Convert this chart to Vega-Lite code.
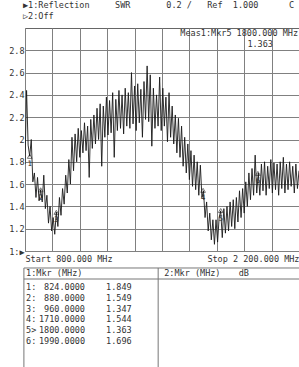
{
  "$schema": "https://vega.github.io/schema/vega-lite/v6.json",
  "width": 274,
  "height": 223,
  "autosize": "none",
  "padding": {"left": 25, "top": 28, "right": 0, "bottom": 116},
  "background": "white",
  "config": {
    "font": "DejaVu Sans Mono",
    "view": {"stroke": "#666", "strokeWidth": 1},
    "text": {"font": "DejaVu Sans Mono", "fontSize": 8.5, "color": "#333"}
  },
  "title": {
    "text": ["▶1:Reflection\u00a0\u00a0\u00a0\u00a0\u00a0SWR\u00a0\u00a0\u00a0\u00a0\u00a0\u00a0\u00a00.2\u00a0/\u00a0\u00a0\u00a0Ref\u00a0\u00a01.000\u00a0\u00a0\u00a0\u00a0\u00a0\u00a0C", "▷2:Off"],
    "anchor": "start",
    "frame": "group",
    "font": "DejaVu Sans Mono",
    "fontSize": 8.5,
    "fontWeight": "normal",
    "color": "#333",
    "lineHeight": 11,
    "offset": 8,
    "dx": -2
  },
  "datasets": {
    "trace": [
      {"f":800,"v":1.78},{"f":808,"v":2.44},{"f":816,"v":1.95},{"f":824,"v":1.85},{"f":832,"v":2.0},{"f":840,"v":1.62},{"f":848,"v":1.7},{"f":856,"v":1.48},{"f":864,"v":1.66},{"f":872,"v":1.45},
      {"f":880,"v":1.55},{"f":888,"v":1.44},{"f":896,"v":1.68},{"f":904,"v":1.38},{"f":912,"v":1.5},{"f":920,"v":1.25},{"f":928,"v":1.4},{"f":936,"v":1.18},{"f":944,"v":1.3},{"f":952,"v":1.15},
      {"f":960,"v":1.35},{"f":968,"v":1.22},{"f":976,"v":1.48},{"f":984,"v":1.32},{"f":992,"v":1.56},{"f":1000,"v":1.42},{"f":1008,"v":1.68},{"f":1016,"v":1.52},{"f":1024,"v":1.82},{"f":1032,"v":1.6},
      {"f":1040,"v":2.02},{"f":1048,"v":1.72},{"f":1056,"v":2.05},{"f":1064,"v":1.8},{"f":1072,"v":2.1},{"f":1080,"v":1.84},{"f":1088,"v":2.08},{"f":1096,"v":1.88},{"f":1104,"v":2.15},{"f":1112,"v":1.9},
      {"f":1120,"v":2.12},{"f":1128,"v":1.66},{"f":1136,"v":2.18},{"f":1144,"v":1.92},{"f":1152,"v":2.22},{"f":1160,"v":1.96},{"f":1168,"v":2.28},{"f":1176,"v":2.0},{"f":1184,"v":2.32},{"f":1192,"v":1.76},
      {"f":1200,"v":2.3},{"f":1208,"v":2.02},{"f":1216,"v":2.38},{"f":1224,"v":2.04},{"f":1232,"v":2.35},{"f":1240,"v":2.06},{"f":1248,"v":2.42},{"f":1256,"v":1.84},{"f":1264,"v":2.36},{"f":1272,"v":2.08},
      {"f":1280,"v":2.44},{"f":1288,"v":2.1},{"f":1296,"v":2.4},{"f":1304,"v":2.05},{"f":1312,"v":2.46},{"f":1320,"v":2.12},{"f":1328,"v":2.42},{"f":1336,"v":2.1},{"f":1344,"v":2.6},{"f":1352,"v":2.14},
      {"f":1360,"v":2.48},{"f":1368,"v":2.08},{"f":1376,"v":2.5},{"f":1384,"v":2.15},{"f":1392,"v":2.45},{"f":1400,"v":2.02},{"f":1408,"v":2.52},{"f":1416,"v":2.18},{"f":1424,"v":2.66},{"f":1432,"v":2.16},
      {"f":1440,"v":2.58},{"f":1448,"v":1.94},{"f":1456,"v":2.46},{"f":1464,"v":2.1},{"f":1472,"v":2.4},{"f":1480,"v":2.12},{"f":1488,"v":2.56},{"f":1496,"v":2.08},{"f":1504,"v":2.46},{"f":1512,"v":2.12},
      {"f":1520,"v":2.38},{"f":1528,"v":1.98},{"f":1536,"v":2.42},{"f":1544,"v":2.02},{"f":1552,"v":2.3},{"f":1560,"v":1.96},{"f":1568,"v":2.22},{"f":1576,"v":1.88},{"f":1584,"v":2.19},{"f":1592,"v":1.84},
      {"f":1600,"v":2.12},{"f":1608,"v":1.76},{"f":1616,"v":2.02},{"f":1624,"v":1.7},{"f":1632,"v":1.96},{"f":1640,"v":1.64},{"f":1648,"v":1.9},{"f":1656,"v":1.58},{"f":1664,"v":1.86},{"f":1672,"v":1.55},
      {"f":1680,"v":1.8},{"f":1688,"v":1.5},{"f":1696,"v":1.77},{"f":1704,"v":1.48},{"f":1712,"v":1.54},{"f":1720,"v":1.3},{"f":1728,"v":1.44},{"f":1736,"v":1.18},{"f":1744,"v":1.34},{"f":1752,"v":1.1},
      {"f":1760,"v":1.28},{"f":1768,"v":1.06},{"f":1776,"v":1.28},{"f":1784,"v":1.08},{"f":1792,"v":1.3},{"f":1800,"v":1.36},{"f":1808,"v":1.12},{"f":1816,"v":1.38},{"f":1824,"v":1.16},{"f":1832,"v":1.4},
      {"f":1840,"v":1.18},{"f":1848,"v":1.44},{"f":1856,"v":1.22},{"f":1864,"v":1.46},{"f":1872,"v":1.2},{"f":1880,"v":1.48},{"f":1888,"v":1.26},{"f":1896,"v":1.54},{"f":1904,"v":1.3},{"f":1912,"v":1.56},
      {"f":1920,"v":1.34},{"f":1928,"v":1.62},{"f":1936,"v":1.4},{"f":1944,"v":1.7},{"f":1952,"v":1.46},{"f":1960,"v":1.74},{"f":1968,"v":1.5},{"f":1976,"v":1.86},{"f":1984,"v":1.52},{"f":1992,"v":1.7},
      {"f":2000,"v":1.5},{"f":2008,"v":1.78},{"f":2016,"v":1.54},{"f":2024,"v":1.8},{"f":2032,"v":1.5},{"f":2040,"v":1.76},{"f":2048,"v":1.56},{"f":2056,"v":1.82},{"f":2064,"v":1.52},{"f":2072,"v":1.79},
      {"f":2080,"v":1.55},{"f":2088,"v":1.78},{"f":2096,"v":1.5},{"f":2104,"v":1.8},{"f":2112,"v":1.56},{"f":2120,"v":1.84},{"f":2128,"v":1.52},{"f":2136,"v":1.78},{"f":2144,"v":1.55},{"f":2152,"v":1.8},
      {"f":2160,"v":1.58},{"f":2168,"v":1.76},{"f":2176,"v":1.52},{"f":2184,"v":1.78},{"f":2192,"v":1.56},{"f":2200,"v":1.72}
    ],
    "markers": [
      {"mk":1,"tag":"1:","f":824,"swr":1.849},
      {"mk":2,"tag":"2:","f":880,"swr":1.549},
      {"mk":3,"tag":"3:","f":960,"swr":1.347},
      {"mk":4,"tag":"4:","f":1710,"swr":1.544},
      {"mk":5,"tag":"5>","f":1800,"swr":1.363},
      {"mk":6,"tag":"6:","f":1990,"swr":1.696}
    ],
    "one": [{}]
  },
  "layer": [
    {
      "layer": [
        {
          "data": {"name": "trace"},
          "mark": {"type": "line", "color": "#1a1a1a", "strokeWidth": 0.9, "clip": true},
          "encoding": {
            "x": {"field": "f", "type": "quantitative", "scale": {"domain": [800, 2200], "nice": false, "zero": false},
              "axis": {"values": [800,940,1080,1220,1360,1500,1640,1780,1920,2060,2200], "tickCount": 40, "grid": true, "gridColor": "#808080", "gridWidth": 1, "ticks": false, "domain": false,
                "labelFlush": true, "labelOverlap": false, "labelBound": false,
                "labelExpr": "datum.value == 800 ? 'Start 800.000 MHz' : (datum.value == 2200 ? 'Stop 2 200.000 MHz' : '')",
                "labelFont": "DejaVu Sans Mono", "labelFontSize": 8.5, "labelColor": "#333", "labelPadding": 3, "title": null}},
            "y": {"field": "v", "type": "quantitative", "scale": {"domain": [1, 3], "nice": false, "zero": false},
              "axis": {"values": [1,1.2,1.4,1.6,1.8,2,2.2,2.4,2.6,2.8], "tickCount": 40, "grid": true, "gridColor": "#808080", "gridWidth": 1, "ticks": false, "domain": false,
                "labelOverlap": false, "labelBound": false,
                "labelExpr": "datum.value == 1 ? '1:▶' : format(datum.value, '.1~f')",
                "labelFont": "DejaVu Sans Mono", "labelFontSize": 8.5, "labelColor": "#333", "labelPadding": 1, "title": null}}
          }
        },
        {
          "data": {"name": "markers"},
          "mark": {"type": "point", "shape": "triangle-up", "size": 22, "filled": false, "color": "#111", "strokeWidth": 0.8},
          "encoding": {
            "x": {"field": "f", "type": "quantitative"},
            "y": {"field": "swr", "type": "quantitative"}
          }
        },
        {
          "data": {"name": "markers"},
          "mark": {"type": "text", "fontSize": 7.5, "dy": 8, "color": "#222"},
          "encoding": {
            "x": {"field": "f", "type": "quantitative"},
            "y": {"field": "swr", "type": "quantitative"},
            "text": {"field": "mk"}
          }
        },
        {
          "data": {"name": "one"},
          "mark": {"type": "text", "align": "right", "baseline": "middle"},
          "encoding": {
            "x": {"datum": 2195, "type": "quantitative"},
            "y": {"datum": 2.955, "type": "quantitative"},
            "text": {"value": "Meas1:Mkr5 1800.000 MHz"}
          }
        },
        {
          "data": {"name": "one"},
          "mark": {"type": "text", "align": "right", "baseline": "middle"},
          "encoding": {
            "x": {"datum": 2067, "type": "quantitative"},
            "y": {"datum": 2.857, "type": "quantitative"},
            "text": {"value": "1.363"}
          }
        }
      ]
    },
    {
      "layer": [
        {
          "data": {"name": "one"},
          "mark": {"type": "rule", "color": "#777", "strokeWidth": 1},
          "encoding": {
            "x": {"datum": -0.4, "type": "quantitative", "scale": {"domain": [0, 100], "nice": false, "zero": false}, "axis": null},
            "x2": {"datum": 101},
            "y": {"datum": -0.76, "type": "quantitative", "scale": {"domain": [-22.98, -2.333], "reverse": true, "nice": false, "zero": false}, "axis": null}
          }
        },
        {
          "data": {"name": "one"},
          "mark": {"type": "rule", "color": "#777", "strokeWidth": 1},
          "encoding": {
            "x": {"datum": -0.4, "type": "quantitative", "scale": {"domain": [0, 100], "nice": false, "zero": false}, "axis": null},
            "x2": {"datum": 101},
            "y": {"datum": 0.26, "type": "quantitative", "scale": {"domain": [-22.98, -2.333], "reverse": true, "nice": false, "zero": false}, "axis": null}
          }
        },
        {
          "data": {"name": "one"},
          "mark": {"type": "rule", "color": "#777", "strokeWidth": 1},
          "encoding": {
            "x": {"datum": -0.4, "type": "quantitative", "scale": {"domain": [0, 100], "nice": false, "zero": false}, "axis": null},
            "y": {"datum": -0.76, "type": "quantitative", "scale": {"domain": [-22.98, -2.333], "reverse": true, "nice": false, "zero": false}, "axis": null},
            "y2": {"datum": 12}
          }
        },
        {
          "data": {"name": "one"},
          "mark": {"type": "rule", "color": "#777", "strokeWidth": 1},
          "encoding": {
            "x": {"datum": 48.6, "type": "quantitative", "scale": {"domain": [0, 100], "nice": false, "zero": false}, "axis": null},
            "y": {"datum": -0.76, "type": "quantitative", "scale": {"domain": [-22.98, -2.333], "reverse": true, "nice": false, "zero": false}, "axis": null},
            "y2": {"datum": 12}
          }
        },
        {
          "data": {"name": "one"},
          "mark": {"type": "text", "align": "left", "baseline": "middle"},
          "encoding": {
            "x": {"datum": 0.4, "type": "quantitative", "scale": {"domain": [0, 100], "nice": false, "zero": false}, "axis": null},
            "y": {"datum": -0.3, "type": "quantitative", "scale": {"domain": [-22.98, -2.333], "reverse": true, "nice": false, "zero": false}, "axis": null},
            "text": {"value": "1:Mkr (MHz)"}
          }
        },
        {
          "data": {"name": "one"},
          "mark": {"type": "text", "align": "left", "baseline": "middle"},
          "encoding": {
            "x": {"datum": 50.8, "type": "quantitative", "scale": {"domain": [0, 100], "nice": false, "zero": false}, "axis": null},
            "y": {"datum": -0.3, "type": "quantitative", "scale": {"domain": [-22.98, -2.333], "reverse": true, "nice": false, "zero": false}, "axis": null},
            "text": {"value": "2:Mkr (MHz)"}
          }
        },
        {
          "data": {"name": "one"},
          "mark": {"type": "text", "align": "left", "baseline": "middle"},
          "encoding": {
            "x": {"datum": 78, "type": "quantitative", "scale": {"domain": [0, 100], "nice": false, "zero": false}, "axis": null},
            "y": {"datum": -0.3, "type": "quantitative", "scale": {"domain": [-22.98, -2.333], "reverse": true, "nice": false, "zero": false}, "axis": null},
            "text": {"value": "dB"}
          }
        },
        {
          "data": {"name": "markers"},
          "mark": {"type": "text", "align": "left", "baseline": "middle"},
          "encoding": {
            "x": {"datum": 0.4, "type": "quantitative", "scale": {"domain": [0, 100], "nice": false, "zero": false}, "axis": null},
            "y": {"field": "mk", "type": "quantitative", "scale": {"domain": [-22.98, -2.333], "reverse": true, "nice": false, "zero": false}, "axis": null},
            "text": {"field": "tag"}
          }
        },
        {
          "data": {"name": "markers"},
          "mark": {"type": "text", "align": "right", "baseline": "middle"},
          "encoding": {
            "x": {"datum": 21.9, "type": "quantitative", "scale": {"domain": [0, 100], "nice": false, "zero": false}, "axis": null},
            "y": {"field": "mk", "type": "quantitative", "scale": {"domain": [-22.98, -2.333], "reverse": true, "nice": false, "zero": false}, "axis": null},
            "text": {"field": "f", "type": "quantitative", "format": ".4f"}
          }
        },
        {
          "data": {"name": "markers"},
          "mark": {"type": "text", "align": "left", "baseline": "middle"},
          "encoding": {
            "x": {"datum": 29.6, "type": "quantitative", "scale": {"domain": [0, 100], "nice": false, "zero": false}, "axis": null},
            "y": {"field": "mk", "type": "quantitative", "scale": {"domain": [-22.98, -2.333], "reverse": true, "nice": false, "zero": false}, "axis": null},
            "text": {"field": "swr", "type": "quantitative", "format": ".3f"}
          }
        }
      ]
    }
  ],
  "resolve": {"scale": {"x": "independent", "y": "independent"}, "axis": {"x": "independent", "y": "independent"}}
}
